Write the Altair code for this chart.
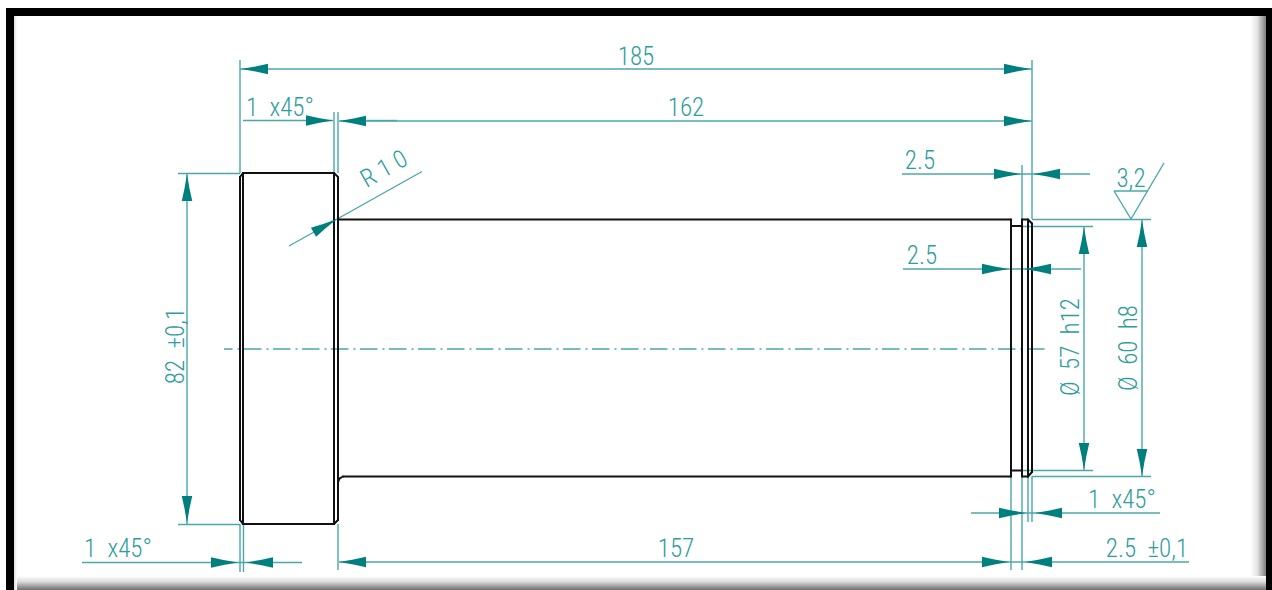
import altair as alt
import pandas as pd

# Segments: x1, y1, x2, y2 in the drawing's own units
outline = [
    (243, 173, 334, 173), (334, 173, 338, 177), (243, 173, 240, 177), (240, 177, 240, 520),
    (240, 520, 243, 524), (243, 173, 243, 524), (243, 524, 334, 524), (334, 524, 338, 520),
    (334, 173, 334, 524), (338, 177, 338, 520),
    (339, 219.5, 1011, 219.5), (338, 482, 339.5, 478.5), (339.5, 478.5, 343, 476.5), (343, 476.5, 1011, 476.5),
    (1011, 219.5, 1011, 476.5), (1011, 226, 1022, 226), (1011, 470.5, 1022, 470.5),
    (1022, 219.5, 1022, 476.5), (1022, 219.5, 1028, 219.5), (1028, 219.5, 1032, 223.5),
    (1028, 221, 1028, 476.5), (1032, 223.5, 1032, 472), (1032, 472, 1028, 476.5),
    (1022, 476.5, 1028, 476.5),
]
dim_lines = [
    (240, 69, 1032, 69), (240, 60, 240, 173), (1032, 60, 1032, 219),
    (243, 120.5, 333, 120.5), (339, 121, 1032, 121), (367, 120.5, 397, 120.5),
    (334, 112, 334, 173), (338, 112, 338, 173),
    (187, 173, 187, 524), (178, 173.5, 240, 173.5), (178, 524.5, 240, 524.5),
    (289, 246, 422, 171.5),
    (902, 174, 1090, 174), (1022, 165, 1022, 219),
    (903, 269, 1081, 269),
    (1032, 219.5, 1151, 219.5), (1022, 226.5, 1093, 226.5),
    (1084, 227, 1084, 470), (1142, 220, 1142, 476),
    (1022, 470.5, 1093, 470.5), (1032, 476.5, 1151, 476.5),
    (1114, 191, 1148, 191), (1114, 191, 1131, 219), (1131, 219, 1164, 163),
    (82, 562.5, 302, 562.5), (240, 524, 240, 572), (243.5, 524, 243.5, 572),
    (338, 524, 338, 570), (339, 562, 1189, 562), (1011, 476, 1011, 570), (1022, 476, 1022, 570),
    (971, 513, 1160, 513), (1028, 476, 1028, 522), (1032, 476, 1032, 522),
]
center_line = [(224, 349, 1046, 349)]

# Arrow tips: x, y, direction the barb opens towards
arrow_tip_x = [241, 1031, 333, 339, 1031, 187, 187, 337, 1021, 1033, 1009, 1024,
               1084, 1084, 1142, 1142, 238, 246, 339, 1009, 1025, 1026, 1035]
arrow_tip_y = [69, 69, 120.5, 121, 121, 174, 523, 219, 174, 174, 269, 269,
               227, 470, 220, 476, 562.5, 562.5, 562, 562, 562, 513, 513]
arrow_dir = [0, 180, 180, 0, 180, 90, 270, 150.5, 180, 0, 180, 0,
             90, 270, 90, 270, 180, 0, 0, 180, 0, 180, 0]

# Labels
NB = "\u00a0"
label_text = ["185", "162", f"1{NB}{NB}x45°", f"82{NB}{NB}±0,1", f"R{NB}1{NB}0", "2.5", "2.5", "3,2",
              f"Ø{NB}{NB}57{NB}{NB}h12", f"Ø{NB}{NB}60{NB}{NB}h8", f"1{NB}{NB}x45°", "157",
              f"1{NB}{NB}x45°", f"2.5{NB}{NB}±0,1"]
label_x = [636, 686, 280, 184, 388, 920, 922, 1131, 1079, 1137, 118, 676, 1122, 1147]
label_y = [65, 116, 116, 346, 176, 169, 264, 187, 347, 348, 557, 557, 508, 557]
label_angle = [0, 0, 0, 270, 330.5, 0, 0, 0, 270, 270, 0, 0, 0, 0]

# Frame bands: x1, y1, x2, y2
frame_black = [(6, 8, 1272, 16), (6, 8, 14, 590), (1266, 8, 1272, 590)]
frame_side = [(14, 16, 17, 590)]
frame_right = [(1250, 16, 1266, 590)]
frame_bottom = [(14, 576, 1266, 590)]

SEG = ["x1", "y1", "x2", "y2"]
X = alt.X("x1:Q", scale=alt.Scale(domain=[0, 1272]), axis=None)
Y = alt.Y("y1:Q", scale=alt.Scale(domain=[0, 590], reverse=True), axis=None)
X2 = alt.X2("x2:Q")
Y2 = alt.Y2("y2:Q")


def seg(rows):
    return pd.DataFrame(rows, columns=SEG)


def grad(stops, horizontal=True):
    return alt.LinearGradient(
        gradient="linear",
        stops=[alt.GradientStop(color=c, offset=o) for o, c in stops],
        x1=0, y1=0, x2=1 if horizontal else 0, y2=0 if horizontal else 1,
    )


TEAL = "#4aa8a8"
ARROW = "#007f7f"
TEXT = "#2f9d9d"

right_band = alt.Chart(seg(frame_right)).mark_rect(
    color=grad([(0, "#ffffff"), (0.45, "#e4e4e4"), (1, "#7f7f7f")])
).encode(x=X, x2=X2, y=Y, y2=Y2)
bottom_band = alt.Chart(seg(frame_bottom)).mark_rect(
    color=grad([(0, "#ffffff"), (0.4, "#dcdcdc"), (1, "#6e6e6e")], horizontal=False)
).encode(x=X, x2=X2, y=Y, y2=Y2)
side_band = alt.Chart(seg(frame_side)).mark_rect(
    color=grad([(0, "#dddddd"), (1, "#ffffff")])
).encode(x=X, x2=X2, y=Y, y2=Y2)
black_band = alt.Chart(seg(frame_black)).mark_rect(color="#000000").encode(x=X, x2=X2, y=Y, y2=Y2)

outline_layer = alt.Chart(seg(outline)).mark_rule(color="#111111", strokeWidth=2, strokeCap="round").encode(
    x=X, x2=X2, y=Y, y2=Y2)
dim_layer = alt.Chart(seg(dim_lines)).mark_rule(color=TEAL, strokeWidth=1.4).encode(x=X, x2=X2, y=Y, y2=Y2)
center_layer = alt.Chart(seg(center_line)).mark_rule(
    color=TEAL, strokeWidth=1.4, strokeDash=[17.5, 5, 2, 4.5], strokeDashOffset=9
).encode(x=X, x2=X2, y=Y, y2=Y2)

arrows = pd.DataFrame({"x1": arrow_tip_x, "y1": arrow_tip_y, "dir": arrow_dir})
arrow_layer = alt.Chart(arrows).mark_point(
    shape="M0,0L2.9,-.5L5.4,-1.05L5.4,1.05L2.9,.5Z",
    size=100, filled=True, fill=ARROW, stroke=None, opacity=1,
).encode(x=X, y=Y, angle=alt.Angle("dir:Q", scale=None))

labels = pd.DataFrame({"x1": label_x, "y1": label_y, "t": label_text, "a": label_angle})
text_layer = alt.Chart(labels).mark_text(
    font="Roboto Condensed", fontSize=25, fontWeight=300, color=TEXT, align="center", baseline="alphabetic",
).encode(x=X, y=Y, text="t:N", angle=alt.Angle("a:Q", scale=None))

chart = alt.layer(
    right_band, bottom_band, side_band, black_band,
    center_layer, dim_layer, outline_layer, arrow_layer, text_layer,
).properties(
    width=1272, height=590, padding=0, autosize=alt.AutoSizeParams(type="none"),
).configure_view(stroke=None)

chart.save("out.html", embed_options={
    "renderer": "svg", "actions": False,
    "defaultStyle": "body{margin:0;overflow:hidden}.vega-embed{display:block}svg{display:block}",
})
